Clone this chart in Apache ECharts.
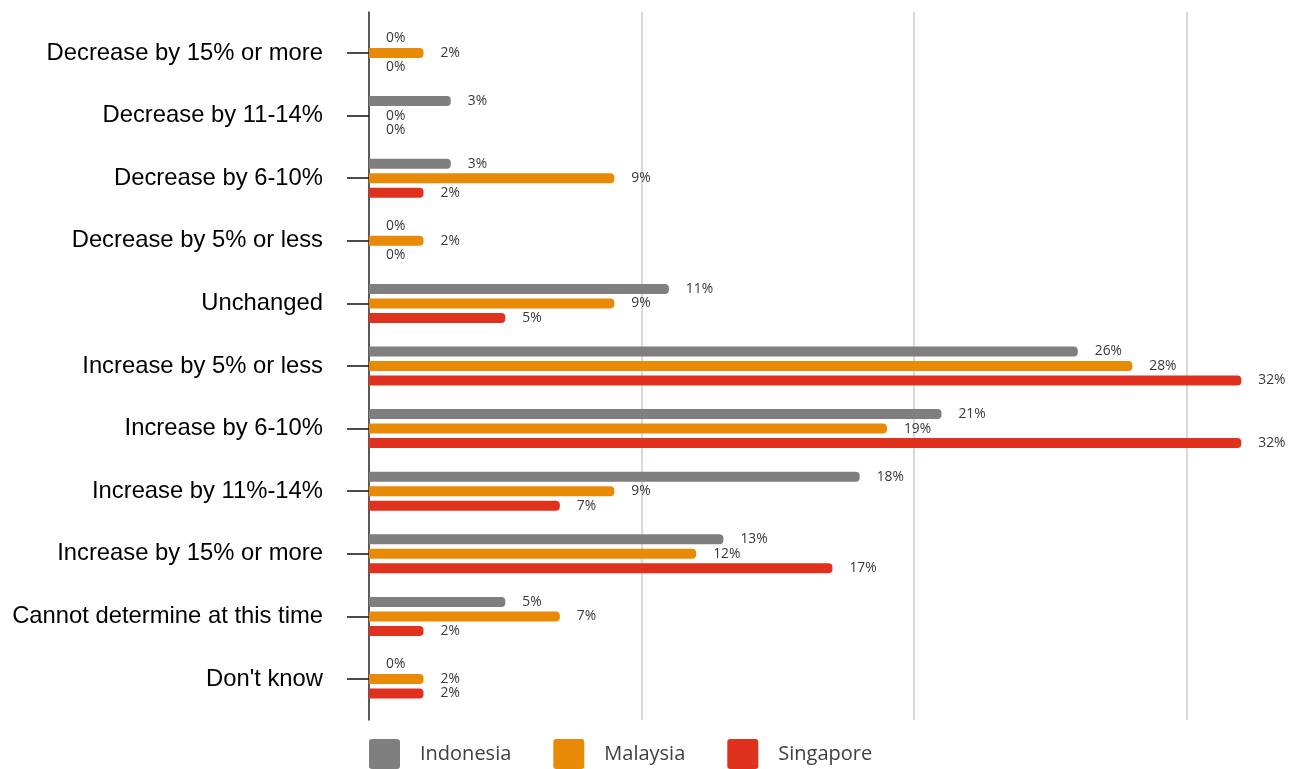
<!DOCTYPE html>
<html>
<head>
<meta charset="utf-8">
<title>Expected change</title>
<script src="https://cdn.jsdelivr.net/npm/echarts@6/dist/echarts.min.js"></script>
<style>
  html, body { margin: 0; padding: 0; background: #ffffff; }
  #chart { width: 1297px; height: 769px; }
</style>
</head>
<body>
<div id="chart"></div>
<script>
// Response categories, listed top to bottom
const categories = [
  'Decrease by 15% or more',
  'Decrease by 11-14%',
  'Decrease by 6-10%',
  'Decrease by 5% or less',
  'Unchanged',
  'Increase by 5% or less',
  'Increase by 6-10%',
  'Increase by 11%-14%',
  'Increase by 15% or more',
  'Cannot determine at this time',
  "Don't know"
];

// Share of respondents (%) per country
const indonesia = [0, 3, 3, 0, 11, 26, 21, 18, 13, 5, 0];
const malaysia  = [2, 0, 9, 2, 9, 28, 19, 9, 12, 7, 2];
const singapore = [0, 0, 2, 0, 5, 32, 32, 7, 17, 2, 2];

const seriesNames = ['Indonesia', 'Malaysia', 'Singapore'];
const seriesColors = ['#7f7f7f', '#e98a06', '#e0311f'];

const X_MAX = 33;
const X_STEP = 10;

// legend swatch: square with slightly rounded corners
const SWATCH = 'path://M3,0 H28 Q31,0 31,3 V27 Q31,30 28,30 H3 Q0,30 0,27 V3 Q0,0 3,0 Z';

const chart = echarts.init(document.getElementById('chart'), null, { renderer: 'canvas' });

function barSeries(name, data, color) {
  return {
    name: name,
    type: 'bar',
    xAxisIndex: 0,
    yAxisIndex: 0,
    data: data,
    barWidth: 10,
    barGap: '45%',
    itemStyle: { color: color, borderRadius: [0, 4, 4, 0] },
    label: {
      show: true,
      position: 'right',
      distance: 17,
      formatter: '{c}%',
      fontFamily: 'Open Sans',
      fontSize: 13.8,
      color: '#383838'
    },
    emphasis: { disabled: true },
    animation: false
  };
}

chart.setOption({
  animation: false,
  backgroundColor: '#ffffff',
  grid: [
    // bars
    { left: 369, right: 28.4, top: 21.7, bottom: 58.7, containLabel: false },
    // frame: axis line and vertical gridlines
    { left: 369, right: 28.4, top: 12, bottom: 49, containLabel: false }
  ],
  xAxis: [
    {
      gridIndex: 0, type: 'value', min: 0, max: X_MAX, interval: X_STEP,
      axisLine: { show: false }, axisTick: { show: false },
      axisLabel: { show: false }, splitLine: { show: false }
    },
    {
      gridIndex: 1, type: 'value', min: 0, max: X_MAX, interval: X_STEP,
      axisLine: { show: false }, axisTick: { show: false },
      axisLabel: { show: false },
      splitLine: {
        show: true, showMinLine: false, showMaxLine: false,
        lineStyle: { color: '#cfcfcf', width: 1.6 }
      }
    }
  ],
  yAxis: [
    {
      gridIndex: 0, type: 'category', data: categories, inverse: true,
      axisLine: { show: false },
      axisTick: {
        show: true, alignWithLabel: true, length: 22,
        lineStyle: { color: '#111111', width: 1.5 }
      },
      axisLabel: {
        margin: 46,
        fontFamily: 'Liberation Sans, Arial, sans-serif',
        fontSize: 23.8,
        color: '#000000',
        padding: [8, 0, 0, 0]
      },
      splitLine: { show: false }
    },
    {
      gridIndex: 1, type: 'value', min: 0, max: 1,
      axisLine: { show: true, onZero: false, lineStyle: { color: '#222222', width: 1.5 } },
      axisTick: { show: false }, axisLabel: { show: false },
      splitLine: { show: false }
    }
  ],
  legend: {
    data: seriesNames,
    left: 369,
    top: 739,
    padding: 0,
    icon: SWATCH,
    itemWidth: 31,
    itemHeight: 30,
    itemGap: 42,
    selectedMode: false,
    textStyle: {
      fontFamily: 'Open Sans',
      fontSize: 20,
      color: '#404040',
      padding: [0, 0, 0, 15]
    }
  },
  series: [
    barSeries(seriesNames[0], indonesia, seriesColors[0]),
    barSeries(seriesNames[1], malaysia, seriesColors[1]),
    barSeries(seriesNames[2], singapore, seriesColors[2])
  ]
});
</script>
</body>
</html>
